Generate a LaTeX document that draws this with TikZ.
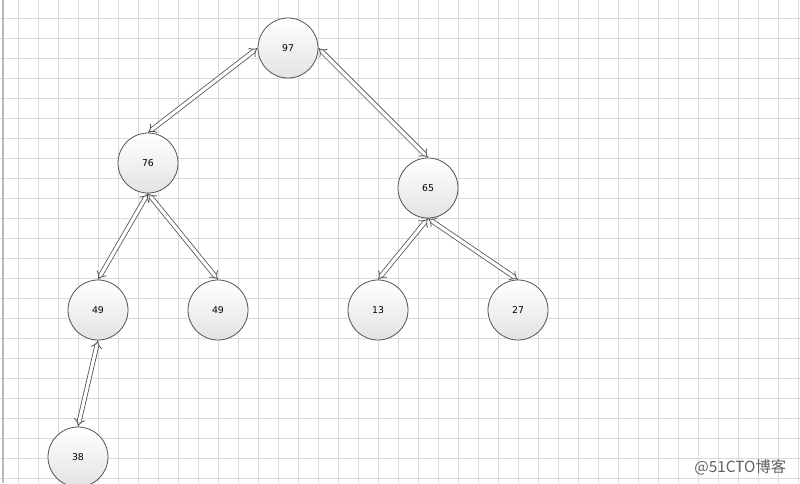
\documentclass[tikz,border=0pt]{standalone}
\usepackage{fontspec}
\setmainfont{DejaVu Sans}
\newfontfamily\cjkfont{Noto Sans CJK SC}
\usetikzlibrary{arrows.meta}
\tikzset{
     heap node/.style={circle, draw=gray!65!black, minimum size=45pt, inner sep=0pt,
       top color=white, bottom color=gray!22, font=\fontsize{7}{8}\selectfont},
      heapedge/.style  = {draw=gray!65!black, double=white, double distance=2.4pt,
       {Implies[length=5pt]}-{Implies[length=5pt]}},
      grid line/.style = {gray!28, line width=0.5pt},
      watermark/.style = {font=\cjkfont\fontsize{11.5}{13}\selectfont, text=gray!75!black},
    }

\begin{document}
\begin{tikzpicture}[x=0.75pt,y=-0.75pt,semithick]
        \useasboundingbox (0,0) rectangle (800,483);
        \clip (0,0) rectangle (800,483);
        % background grid
        \foreach \x in {18,38,...,798} \draw[grid line] (\x,0) -- (\x,483);
        \foreach \y in {18,38,...,478} \draw[grid line] (0,\y) -- (800,\y);
        \draw[gray!55, line width=1pt] (3,0) -- (3,483);
        \node [heap node] (a) at (288,48)  {97};
        \node [heap node] (b) at (148,163) {76};
        \node [heap node] (c) at (428,188) {65};
        \node [heap node] (d) at (98,310)  {49};
        \node [heap node] (e) at (218,310) {49};
        \node [heap node] (f) at (378,310) {13};
        \node [heap node] (g) at (518,310) {27};
        \node [heap node] (h) at (78,457)  {38};
        \path
        (a.west) edge[heapedge] (b.north)
        (a.east) edge[heapedge] (c.north)
        (b.south) edge[heapedge] (d.north)
        (b.south) edge[heapedge] (e.north)
        (c.south) edge[heapedge] (f.north)
        (c.south) edge[heapedge] (g.north)
        (d.south) edge[heapedge] (h.north);
        \node [watermark, anchor=east] (w) at (791,467) {@51CTO博客};
    \end{tikzpicture}
\end{document}
